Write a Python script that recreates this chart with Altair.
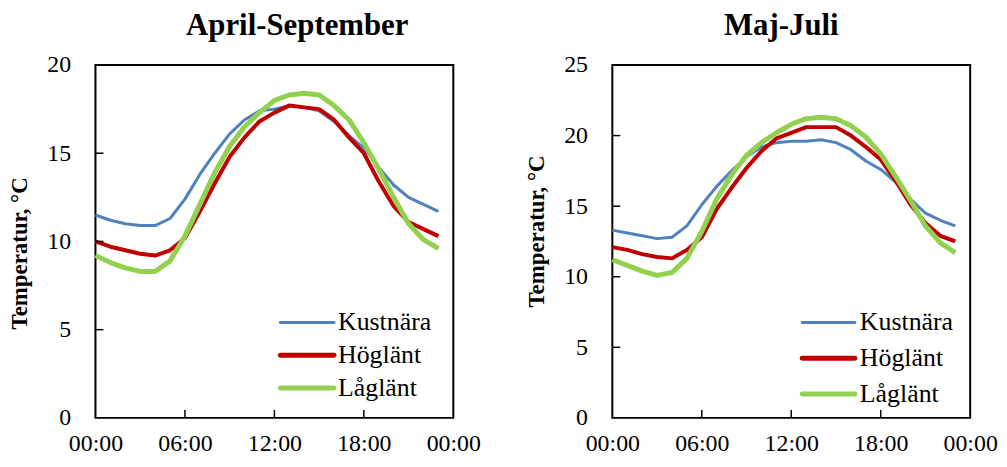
import altair as alt
import pandas as pd

FONT = "Liberation Serif"

hours = list(range(24))
series_names = ["Kustnära", "Höglänt", "Låglänt"]
series_colors = ["#4F81BD", "#C00000", "#92D050"]
series_widths = [3, 5, 5]

x_tick_values = [0, 6, 12, 18, 24]
x_inner_ticks = [6, 12, 18]

# April-September
aprsep_kustnara = [11.5, 11.2, 11.0, 10.9, 10.9, 11.3, 12.4, 13.8, 15.0, 16.1, 16.9, 17.4,
                   17.5, 17.7, 17.6, 17.4, 16.8, 16.0, 15.3, 14.2, 13.2, 12.5, 12.1, 11.7]
aprsep_hoglant = [10.0, 9.7, 9.5, 9.3, 9.2, 9.5, 10.2, 11.7, 13.3, 14.8, 15.9, 16.8,
                  17.3, 17.7, 17.6, 17.5, 16.9, 15.9, 15.0, 13.4, 12.0, 11.1, 10.7, 10.3]
aprsep_laglant = [9.2, 8.8, 8.5, 8.3, 8.3, 8.9, 10.3, 12.1, 13.9, 15.4, 16.5, 17.3,
                  18.0, 18.3, 18.4, 18.3, 17.7, 16.9, 15.6, 14.1, 12.5, 11.0, 10.1, 9.6]

# Maj-Juli
majjul_kustnara = [13.3, 13.1, 12.9, 12.7, 12.8, 13.6, 15.1, 16.4, 17.5, 18.5, 19.2, 19.5,
                   19.6, 19.6, 19.7, 19.5, 19.0, 18.2, 17.6, 16.7, 15.5, 14.5, 14.0, 13.6]
majjul_hoglant = [12.1, 11.9, 11.6, 11.4, 11.3, 11.9, 12.8, 14.8, 16.3, 17.7, 18.9, 19.8,
                  20.2, 20.6, 20.6, 20.6, 20.0, 19.2, 18.3, 16.8, 15.1, 13.8, 12.9, 12.5]
majjul_laglant = [11.2, 10.8, 10.4, 10.1, 10.3, 11.3, 13.2, 15.5, 17.2, 18.6, 19.5, 20.2,
                  20.8, 21.2, 21.3, 21.2, 20.7, 19.9, 18.7, 17.1, 15.4, 13.6, 12.4, 11.7]

left_y_ticks = [0, 5, 10, 15, 20]
right_y_ticks = [0, 5, 10, 15, 20, 25]


def panel(title, values, ymax, y_ticks, title_dx, axis_title_y, legend_rows_y, legend_x0,
          legend_x1, legend_tx, width, height):
    df = pd.DataFrame({
        "hour": hours * len(series_names),
        "temp": [v for vals in values for v in vals],
        "series": [s for s in series_names for _ in hours],
    })
    x_enc = alt.X(
        "hour:Q",
        scale=alt.Scale(domain=[0, 24], nice=False, zero=False),
        axis=alt.Axis(values=x_tick_values,
                      labelExpr="(datum.value % 24 < 10 ? '0' : '') + (datum.value % 24) + ':00'",
                      title=None, grid=False, ticks=False, tickSize=0, domain=False,
                      labelFont=FONT, labelFontSize=24, labelColor="black",
                      labelPadding=14, labelOverlap=False, labelFlush=False),
    )
    y_enc = alt.Y(
        "temp:Q",
        scale=alt.Scale(domain=[0, ymax], nice=False, zero=True),
        axis=alt.Axis(values=y_ticks, title="Temperatur, °C", titleFont=FONT,
                      titleFontSize=23, titleFontWeight="bold", titleColor="black",
                      titlePadding=15, titleY=axis_title_y,
                      labelFont=FONT, labelFontSize=24, labelColor="black",
                      labelPadding=25, ticks=False, tickSize=0, domain=False, grid=False,
                      format="d"),
    )
    lines = alt.Chart(df).mark_line(strokeJoin="round").encode(
        x=x_enc,
        y=y_enc,
        color=alt.Color("series:N", scale=alt.Scale(domain=series_names, range=series_colors),
                        legend=None),
        strokeWidth=alt.StrokeWidth("series:N",
                                    scale=alt.Scale(domain=series_names, range=series_widths),
                                    legend=None),
    )
    inner_y = [t for t in y_ticks if 0 < t < ymax]
    y_tick_marks = alt.Chart(pd.DataFrame({"temp": inner_y})).mark_rule(
        color="black", strokeWidth=1.5).encode(y=y_enc, x=alt.value(0), x2=alt.value(8))
    x_tick_marks = alt.Chart(pd.DataFrame({"hour": x_inner_ticks})).mark_rule(
        color="black", strokeWidth=1.5).encode(x=x_enc, y=alt.value(height),
                                                y2=alt.value(height - 8))
    layers = [lines, y_tick_marks, x_tick_marks]
    for i, name in enumerate(series_names):
        ldf = pd.DataFrame({"series": [name]})
        layers.append(alt.Chart(ldf).mark_rule(
            color=series_colors[i], strokeWidth=series_widths[i], strokeCap="round").encode(
            x=alt.value(legend_x0), x2=alt.value(legend_x1), y=alt.value(legend_rows_y[i])))
        layers.append(alt.Chart(ldf).mark_text(
            align="left", baseline="middle", font=FONT, fontSize=26, color="black").encode(
            x=alt.value(legend_tx), y=alt.value(legend_rows_y[i]), text="series:N"))
    return alt.layer(*layers).properties(
        width=width, height=height,
        title=alt.TitleParams(title, font=FONT, fontSize=31, fontWeight="bold", color="black",
                              anchor="middle", frame="group", dx=title_dx, offset=11),
    )


H = 355
left = panel("April-September", [aprsep_kustnara, aprsep_hoglant, aprsep_laglant], 20,
             left_y_ticks, 23, 189, [259, 292, 325], 186, 240, 244, 360, H)
right = panel("Maj-Juli", [majjul_kustnara, majjul_hoglant, majjul_laglant], 25,
              right_y_ticks, -10, 167, [259, 295, 331], 191, 244, 249, 360, H)

chart = alt.hconcat(left, right, spacing=43).properties(
    padding=0, background="white"
).configure_view(stroke="black", strokeWidth=2)

chart.save("out.html", embed_options={"renderer": "svg", "actions": False})
